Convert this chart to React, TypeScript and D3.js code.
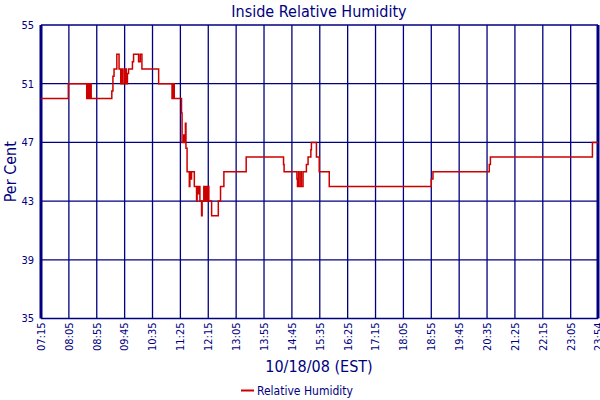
import * as d3 from "d3";
import { useEffect } from "react";

const tickLabels = ["07:15", "08:05", "08:55", "09:45", "10:35", "11:25", "12:15", "13:05", "13:55", "14:45", "15:35", "16:25", "17:15", "18:05", "18:55", "19:45", "20:35", "21:25", "22:15", "23:05", "23:54"];
const yTicks = [35, 39, 43, 47, 51, 55];

const times = [
  "07:15", "08:04", "08:37", "08:39", "08:41", "08:43", "08:45", "09:22", "09:24", "09:26",
  "09:31", "09:35", "09:38", "09:40", "09:41", "09:44", "09:45", "09:47", "09:48", "09:50",
  "09:52", "09:59", "10:01", "10:10", "10:13", "10:16", "10:46", "11:10", "11:11", "11:12",
  "11:13", "11:14", "11:27", "11:28", "11:31", "11:32", "11:34", "11:35", "11:37", "11:41",
  "11:42", "11:44", "11:45", "11:50", "11:54", "11:55", "11:57", "11:58", "12:00", "12:03",
  "12:04", "12:07", "12:09", "12:11", "12:12", "12:14", "12:16", "12:21", "12:33", "12:37",
  "12:43", "13:23", "14:30", "14:31", "14:54", "14:55", "14:57", "14:58", "15:01", "15:02",
  "15:05", "15:11", "15:14", "15:19", "15:20", "15:29", "15:34", "15:52", "18:55", "18:58",
  "20:39", "20:41", "23:44", "23:54",
];
const humidity = [
  50, 51, 50, 51, 50, 51, 50, 50.5, 51.5, 52,
  53, 52, 51, 52, 51, 52, 51, 52, 51, 51.7,
  52, 52.5, 53, 52.5, 53, 52, 51, 50, 51, 50,
  51, 50, 49, 47, 47.5, 47, 48.3, 46.6, 45, 44,
  45, 44.5, 45, 44, 43, 44, 43.5, 44, 43, 42,
  43, 44, 43, 44, 43, 44, 43, 42, 43, 44,
  45, 46, 45.5, 45, 44.5, 44, 45, 44, 45, 44,
  45, 45.5, 46, 46.5, 47, 46, 45, 44, 44.5, 45,
  45.5, 46, 47, 47,
];

const toMin = (s: string) => {
  const [h, m] = s.split(":").map(Number);
  return h * 60 + m;
};

const navy = "#000080";
const font = "'DejaVu Sans Condensed', 'DejaVu Sans', sans-serif";

export default function App() {
  useEffect(() => {
    document.body.style.margin = "0";
  }, []);

  const width = 600;
  const height = 400;
  const margin = { left: 41, right: 2, top: 25, bottom: 81.5 };
  const innerW = width - margin.left - margin.right;
  const innerH = height - margin.top - margin.bottom;

  const x = d3.scaleLinear()
    .domain([toMin(tickLabels[0]), toMin(tickLabels[tickLabels.length - 1])])
    .range([0, innerW]);
  const y = d3.scaleLinear().domain([35, 55]).range([innerH, 0]);

  const points: [number, number][] = times.map((t, i) => [toMin(t), humidity[i]]);
  const line = d3.line<[number, number]>()
    .x(d => x(d[0]))
    .y(d => y(d[1]))
    .curve(d3.curveStepAfter);

  return (
    <svg width={width} height={height} style={{ display: "block", background: "#fff" }} fontFamily={font}>
      <text x={319} y={17} textAnchor="middle" fill={navy} fontSize={16}>Inside Relative Humidity</text>
      <g transform={`translate(${margin.left},${margin.top})`}>
        {yTicks.map(v => (
          <line key={v} x1={0} x2={innerW} y1={y(v)} y2={y(v)} stroke={navy} strokeWidth={1.3} />
        ))}
        {tickLabels.map((t, i) => (
          <line key={t} x1={x(toMin(t))} x2={x(toMin(t))} y1={0} y2={innerH} stroke={navy}
            strokeWidth={i === 0 || i === tickLabels.length - 1 ? 3 : 1.3} />
        ))}
        <path d={line(points) ?? ""} fill="none" stroke="#cc0000" strokeWidth={1.5} />
        {yTicks.map(v => (
          <text key={v} x={-7} y={y(v)} dy="0.35em" textAnchor="end" fill={navy} fontSize={11}>{v}</text>
        ))}
        {tickLabels.map(t => (
          <text key={t} transform={`translate(${x(toMin(t))},${innerH + 4}) rotate(-90)`}
            textAnchor="end" dy="0.35em" fill={navy} fontSize={11}>{t}</text>
        ))}
      </g>
      <text x={319} y={372} textAnchor="middle" fill={navy} fontSize={16}>10/18/08 (EST)</text>
      <text transform={`translate(16,${margin.top + innerH / 2}) rotate(-90)`} textAnchor="middle" fill={navy} fontSize={16}>Per Cent</text>
      <line x1={241} x2={254} y1={390.5} y2={390.5} stroke="#cc0000" strokeWidth={2} />
      <text x={257} y={395} fill={navy} fontSize={12}>Relative Humidity</text>
    </svg>
  );
}
